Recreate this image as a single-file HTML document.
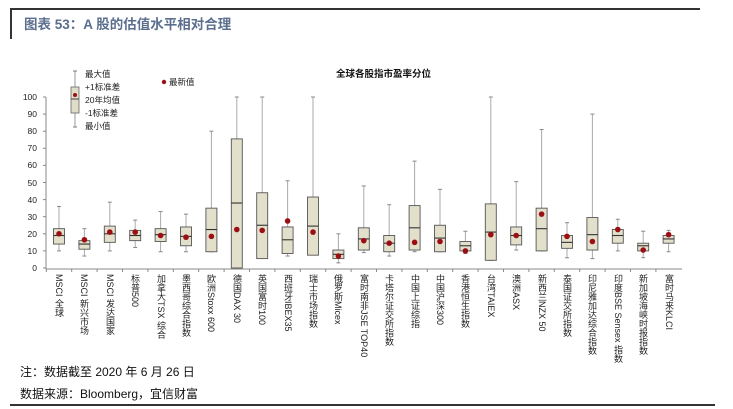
<!DOCTYPE html>
<html><head><meta charset="utf-8"><style>
body{margin:0;width:733px;height:409px;background:#fff;overflow:hidden;position:relative;font-family:"Liberation Sans","Noto Sans CJK SC",sans-serif}
.t{position:absolute;white-space:nowrap}
.lab{position:absolute;top:274px;writing-mode:vertical-rl;font-size:9px;color:#222;line-height:11px;white-space:nowrap}
</style></head><body>
<div style="position:absolute;left:10px;top:8px;width:690px;height:2px;background:#333"></div>
<div style="position:absolute;left:10px;top:8px;width:2px;height:31px;background:#333"></div>
<div class="t" style="left:24px;top:13px;font-size:13.5px;font-weight:bold;color:#5a6e8e">图表 53：A 股的估值水平相对合理</div>
<div class="t" style="left:336px;top:66px;font-size:9.5px;font-weight:bold;color:#111">全球各股指市盈率分位</div>
<div class="t" style="left:20px;top:363px;font-size:12px;color:#111">注：数据截至 2020 年 6 月 26 日</div>
<div class="t" style="left:20px;top:385px;font-size:12px;color:#111">数据来源：Bloomberg，宜信财富</div>
<div style="position:absolute;left:10px;top:404px;width:705px;height:2px;background:#333"></div>
<svg id="s" width="733" height="409" style="position:absolute;left:0;top:0" font-family="Liberation Sans, Noto Sans CJK SC, sans-serif">
<g font-size="8.5" fill="#222" text-anchor="end">
<text x="37" y="100">100</text><text x="37" y="117">90</text><text x="37" y="134">80</text><text x="37" y="151">70</text><text x="37" y="168">60</text><text x="37" y="186">50</text><text x="37" y="203">40</text><text x="37" y="220">30</text><text x="37" y="237">20</text><text x="37" y="254">10</text><text x="37" y="271">0</text>
</g>
<g font-size="8.5" fill="#222">
<text x="85" y="77">最大值</text><text x="85" y="90">+1标准差</text><text x="85" y="103">20年均值</text><text x="85" y="116">-1标准差</text><text x="85" y="129">最小值</text>
<text x="169" y="85">最新值</text>
</g>
<circle cx="164" cy="82" r="2.2" fill="#9b0f14"/>
<line x1="75" y1="71" x2="75" y2="127" stroke="#999"/>
<line x1="73" y1="71" x2="77" y2="71" stroke="#777"/><line x1="73" y1="127" x2="77" y2="127" stroke="#777"/>
<rect x="71" y="87" width="8" height="26" fill="#e0dcc8" stroke="#666" stroke-width=".8"/>
<line x1="71" y1="99" x2="79" y2="99" stroke="#444"/>
<circle cx="75" cy="95" r="2" fill="#9b0f14"/>
</svg>
<div class="lab" style="left:53px">MSCI 全球</div>
<div class="lab" style="left:78px">MSCI 新兴市场</div>
<div class="lab" style="left:104px">MSCI 发达国家</div>
<div class="lab" style="left:129px">标普500</div>
<div class="lab" style="left:155px">加拿大TSX 综合</div>
<div class="lab" style="left:180px">墨西哥综合指数</div>
<div class="lab" style="left:205px">欧洲Stoxx 600</div>
<div class="lab" style="left:231px">德国DAX 30</div>
<div class="lab" style="left:256px">英国富时100</div>
<div class="lab" style="left:282px">西班牙IBEX35</div>
<div class="lab" style="left:307px">瑞士市场指数</div>
<div class="lab" style="left:332px">俄罗斯Micex</div>
<div class="lab" style="left:358px">富时南非JSE TOP40</div>
<div class="lab" style="left:383px">卡塔尔证交所指数</div>
<div class="lab" style="left:409px">中国上证综指</div>
<div class="lab" style="left:434px">中国沪深300</div>
<div class="lab" style="left:459px">香港恒生指数</div>
<div class="lab" style="left:485px">台湾TAIEX</div>
<div class="lab" style="left:510px">澳洲ASX</div>
<div class="lab" style="left:536px">新西兰NZX 50</div>
<div class="lab" style="left:561px">泰国证交所指数</div>
<div class="lab" style="left:586px">印尼雅加达综合指数</div>
<div class="lab" style="left:612px">印度BSE Sensex 指数</div>
<div class="lab" style="left:637px">新加坡海峡时报指数</div>
<div class="lab" style="left:663px">富时马来KLCI</div>
<script>
var d=[[36,14,23,19,20,10],[23,11,16,14,16.5,7],[38.5,15,24.5,20,21,10],[28,16,22,19,21,12],[33,15.5,23,19.5,19,9.5],[31.5,13,24,18.5,18,9.5],[80,9.5,35,22.5,18.5,9.5],[100,0,75.5,38,22.5,0],[100,5.5,44,25,22,9],[51,8.5,24,16.5,27.5,7],[100,7.5,41.5,24.5,21,13],[20,5.5,10.5,8,7,3],[48,10.5,23.5,17,16,9],[37,9.5,19,14.5,14.5,7],[62.5,10.5,36.5,23.5,15,9.5],[46,9.5,25,17.5,15.5,9.5],[21.5,10,15.5,13,10,8.5],[100,4.5,37.5,21,19.5,4.5],[50.5,13.5,24,19,19,10.5],[81,10,35,23,31.5,10],[26.5,11.5,19,15,18.5,6],[90,10.5,29.5,19.5,15.5,5.5],[28.5,14.5,22.5,19,22.5,10],[21.5,10,14.5,13,10.5,6],[22,14.5,19,17,19.5,9.5]];
var s=document.getElementById('s'),h='';
function Y(v){return 268-v*1.71}
h+='<line x1="46" y1="97" x2="46" y2="269" stroke="#888"/><line x1="46" y1="269" x2="682" y2="269" stroke="#888"/>';
for(var k=0;k<=10;k++)h+='<line x1="43" y1="'+Y(k*10)+'" x2="46" y2="'+Y(k*10)+'" stroke="#888"/>';
for(var i=0;i<d.length;i++){var c=59+i*25.4,a=d[i];
h+='<line x1="'+(c-12.7)+'" y1="269" x2="'+(c-12.7)+'" y2="272" stroke="#888"/>';
h+='<line x1="'+c+'" y1="'+Y(a[0])+'" x2="'+c+'" y2="'+Y(a[5])+'" stroke="#aaa"/>';
h+='<line x1="'+(c-2)+'" y1="'+Y(a[0])+'" x2="'+(c+2)+'" y2="'+Y(a[0])+'" stroke="#888"/><line x1="'+(c-2)+'" y1="'+Y(a[5])+'" x2="'+(c+2)+'" y2="'+Y(a[5])+'" stroke="#888"/>';
h+='<rect x="'+(c-5.5)+'" y="'+Y(a[2])+'" width="11" height="'+(Y(a[1])-Y(a[2]))+'" fill="#e2dfcb" stroke="#555" stroke-width=".9"/>';
h+='<line x1="'+(c-5.5)+'" y1="'+Y(a[3])+'" x2="'+(c+5.5)+'" y2="'+Y(a[3])+'" stroke="#333" stroke-width="1.1"/>';
h+='<circle cx="'+c+'" cy="'+Y(a[4])+'" r="2.8" fill="#9b0f14"/>';}
s.insertAdjacentHTML('beforeend',h);
</script>
</body></html>
